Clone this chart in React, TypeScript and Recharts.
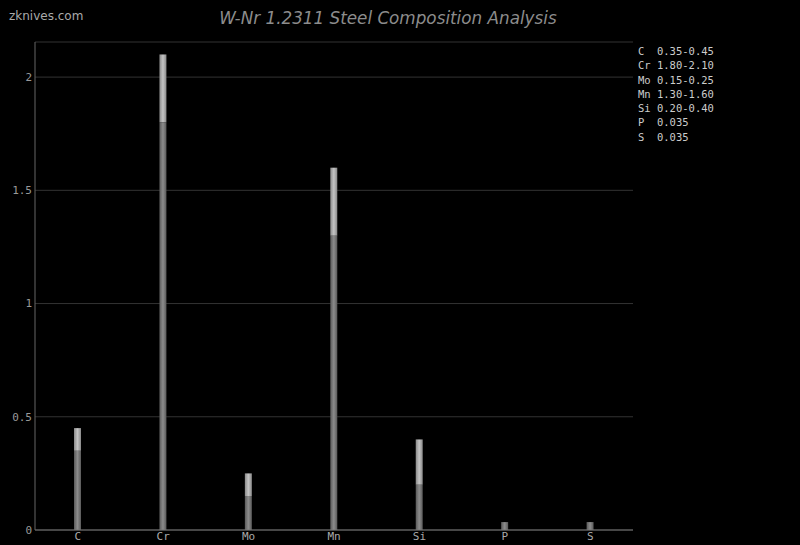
import React from "react";
import { BarChart, Bar, XAxis, YAxis, CartesianGrid } from "recharts";

// steel composition (% by weight)
const elements = ["C", "Cr", "Mo", "Mn", "Si", "P", "S"];
const minValues = [0.35, 1.8, 0.15, 1.3, 0.2, 0.035, 0.035];
const maxValues = [0.45, 2.1, 0.25, 1.6, 0.4, 0.035, 0.035];
const legendLines = [
  "C  0.35-0.45",
  "Cr 1.80-2.10",
  "Mo 0.15-0.25",
  "Mn 1.30-1.60",
  "Si 0.20-0.40",
  "P  0.035",
  "S  0.035",
];
const yTicks = [0, 0.5, 1, 1.5, 2];

const data = elements.map((name, i) => ({
  name,
  min: minValues[i],
  range: +(maxValues[i] - minValues[i]).toFixed(3),
}));

const mono = "'DejaVu Sans Mono', monospace";

export default function App() {
  return (
    <div
      style={{
        position: "fixed",
        top: 0,
        left: 0,
        width: 800,
        height: 545,
        background: "#000",
      }}
    >
      <BarChart
        width={800}
        height={545}
        data={data}
        margin={{ top: 42, right: 167, bottom: 0, left: 0 }}
      >
        <defs>
          <linearGradient id="lowGrad" x1="0" y1="0" x2="1" y2="0">
            <stop offset="0%" stopColor="#5a5a5a" />
            <stop offset="50%" stopColor="#8c8c8c" />
            <stop offset="100%" stopColor="#5a5a5a" />
          </linearGradient>
          <linearGradient id="highGrad" x1="0" y1="0" x2="1" y2="0">
            <stop offset="0%" stopColor="#8a8a8a" />
            <stop offset="50%" stopColor="#c4c4c4" />
            <stop offset="100%" stopColor="#8a8a8a" />
          </linearGradient>
        </defs>
        <CartesianGrid vertical={false} stroke="#333" />
        <XAxis
          dataKey="name"
          height={15}
          tickLine={false}
          tickSize={0}
          tickMargin={2}
          stroke="#777"
          tick={{ fill: "#aaa", fontSize: 11, fontFamily: mono }}
        />
        <YAxis
          width={35}
          domain={[0, 2.155]}
          ticks={yTicks}
          tickLine={false}
          tickSize={0}
          tickMargin={3}
          stroke="#666"
          tick={{ fill: "#999", fontSize: 11, fontFamily: mono }}
        />
        <Bar dataKey="min" stackId="a" barSize={7} fill="url(#lowGrad)" isAnimationActive={false} />
        <Bar dataKey="range" stackId="a" barSize={7} fill="url(#highGrad)" isAnimationActive={false} />
      </BarChart>
      <div
        style={{
          position: "absolute",
          left: 9,
          top: 9,
          color: "#aaa",
          fontFamily: "'DejaVu Sans', sans-serif",
          fontSize: 12,
        }}
      >
        zknives.com
      </div>
      <div
        style={{
          position: "absolute",
          left: 0,
          width: 776,
          top: 8,
          textAlign: "center",
          color: "#8c8c8c",
          fontFamily: "'DejaVu Sans', sans-serif",
          fontStyle: "italic",
          fontSize: 16.8,
        }}
      >
        W-Nr 1.2311 Steel Composition Analysis
      </div>
      <div
        style={{
          position: "absolute",
          left: 638,
          top: 44,
          color: "#ccc",
          fontFamily: mono,
          fontSize: 10.5,
          lineHeight: "14.3px",
          whiteSpace: "pre",
        }}
      >
        {legendLines.map((l) => (
          <div key={l}>{l}</div>
        ))}
      </div>
    </div>
  );
}
